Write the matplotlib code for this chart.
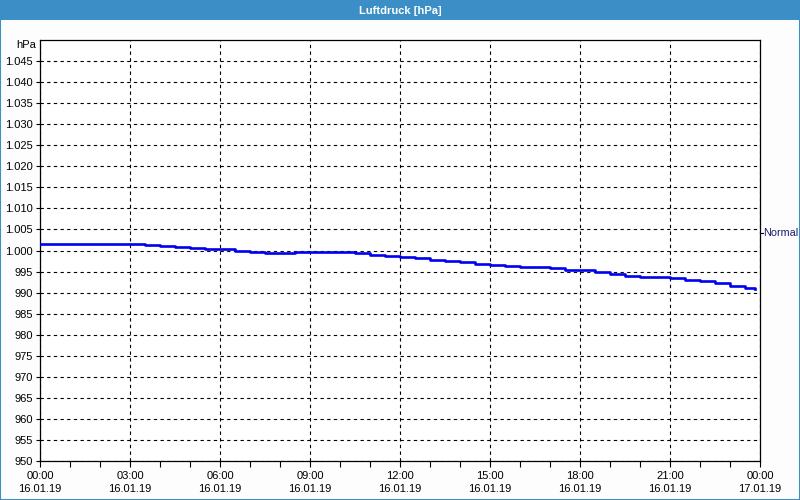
import matplotlib
matplotlib.use("Agg")
import matplotlib.pyplot as plt
from matplotlib.patches import Rectangle
from matplotlib.ticker import FuncFormatter, MultipleLocator

# Stunden seit 16.01.19 00:00, Luftdruck in hPa
stunden = [0.0, 0.5, 1.0, 1.5, 2.0, 2.5, 3.0, 3.5, 4.0, 4.5, 5.0, 5.5,
           6.0, 6.5, 7.0, 7.5, 8.0, 8.5, 9.0, 9.5, 10.0, 10.5, 11.0, 11.5,
           12.0, 12.5, 13.0, 13.5, 14.0, 14.5, 15.0, 15.5, 16.0, 16.5, 17.0, 17.5,
           18.0, 18.5, 19.0, 19.5, 20.0, 20.5, 21.0, 21.5, 22.0, 22.5, 23.0, 23.5,
           23.83]
druck = [1001.55, 1001.55, 1001.55, 1001.55, 1001.55, 1001.55, 1001.55, 1001.4,
         1001.15, 1000.9, 1000.65, 1000.35, 1000.35, 999.8, 999.7, 999.35,
         999.35, 999.65, 999.65, 999.65, 999.65, 999.35, 999.0, 998.8,
         998.45, 998.15, 997.8, 997.5, 997.2, 996.85, 996.55, 996.3,
         996.05, 996.05, 995.75, 995.45, 995.35, 994.95, 994.35, 994.0,
         993.7, 993.7, 993.4, 993.05, 992.75, 992.25, 991.55, 991.05,
         990.85]
normal_wert = 1004.2

tick_stunden = [0, 3, 6, 9, 12, 15, 18, 21, 24]
tick_labels = ["00:00\n16.01.19", "03:00\n16.01.19", "06:00\n16.01.19",
               "09:00\n16.01.19", "12:00\n16.01.19", "15:00\n16.01.19",
               "18:00\n16.01.19", "21:00\n16.01.19", "00:00\n17.01.19"]

blau_rahmen = "#3b8fc6"
plt.rcParams["font.family"] = ["Liberation Sans", "DejaVu Sans"]

fig = plt.figure(figsize=(8, 5), dpi=100, facecolor="#fcfdfc")

# Titelleiste
fig.patches.append(Rectangle((0, 0.96), 1, 0.04, transform=fig.transFigure,
                             facecolor=blau_rahmen, edgecolor="none"))
fig.patches.append(Rectangle((0.0006, 0.001), 0.9988, 0.998, transform=fig.transFigure,
                             facecolor="none", edgecolor=blau_rahmen, linewidth=1.5))
fig.text(0.5, 0.979, "Luftdruck [hPa]", color="white", fontsize=8,
         fontweight="bold", ha="center", va="center")

ax = fig.add_axes([0.05, 0.078, 0.9, 0.842])
ax.set_facecolor("white")
ax.step(stunden, druck, where="post", color="#0000f0", linewidth=1.9, zorder=3)

ax.set_xlim(0, 24)
ax.set_ylim(950, 1050)
ax.set_xticks(tick_stunden)
ax.set_xticklabels(tick_labels, fontsize=8, linespacing=1.45)
ax.xaxis.set_minor_locator(MultipleLocator(1))
ax.set_yticks(range(950, 1050, 5))


def y_fmt(v, pos):
    v = int(round(v))
    if v >= 1000:
        return f"{v // 1000}.{v % 1000:03d}"
    return str(v)


ax.yaxis.set_major_formatter(FuncFormatter(y_fmt))
ax.tick_params(axis="y", labelsize=8, length=3, width=0.8, pad=2)
ax.tick_params(axis="x", which="major", length=4, width=0.8, pad=3)
ax.tick_params(axis="x", which="minor", length=4, width=0.8)

ax.grid(True, color="black", linestyle=(0, (3, 3)), linewidth=0.8)
for s in ax.spines.values():
    s.set_color("black")
    s.set_linewidth(0.9)

ax.text(-0.006, 0.988, "hPa", transform=ax.transAxes, ha="right", va="center",
        fontsize=8)

# Normalwert am rechten Rand
ax.plot([24, 24.1], [normal_wert, normal_wert], color="black", linewidth=0.8,
        clip_on=False)
ax.text(24.12, normal_wert, "Normal", ha="left", va="center", fontsize=7.8,
        color="#1b1b70", clip_on=False)

fig.savefig("out.png", dpi=100, facecolor=fig.get_facecolor())
